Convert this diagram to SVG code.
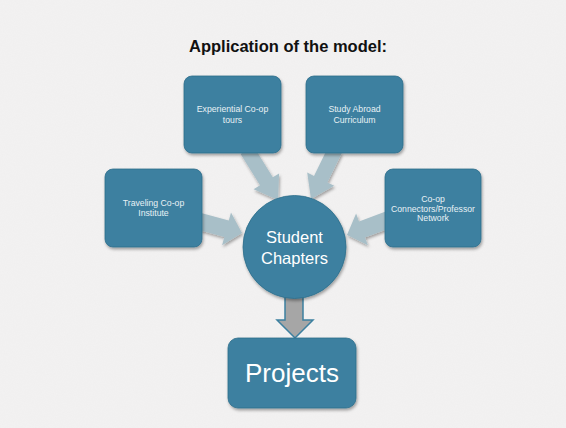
<svg xmlns="http://www.w3.org/2000/svg" width="566" height="428" viewBox="0 0 566 428">
  <defs>
    <filter id="sh" x="-20%" y="-20%" width="140%" height="140%">
      <feDropShadow dx="1" dy="2" stdDeviation="1.5" flood-color="#000" flood-opacity="0.35"/>
    </filter>
    <filter id="tex" x="0" y="0" width="100%" height="100%">
      <feTurbulence type="fractalNoise" baseFrequency="0.9" numOctaves="2" seed="3" result="n"/>
      <feColorMatrix type="matrix" values="0 0 0 0 0.5  0 0 0 0 0.5  0 0 0 0 0.5  0 0 0 0.06 0"/>
    </filter>
  </defs>
  <style>
    .box { fill: #3c80a0; stroke: #2f6e8c; stroke-width: 0.8; filter: url(#sh); }
    .lbl { font-family: "Liberation Sans", Arial, sans-serif; font-size: 8.7px; fill: #e8f1f5; text-anchor: middle; }
    .big { font-family: "Liberation Sans", Arial, sans-serif; fill: #ffffff; text-anchor: middle; }
    .arr { fill: #a8bfc8; filter: url(#sh); }
    .down { fill: #a6a6a6; stroke: #3c80a0; stroke-width: 1.5; }
  </style>
  <rect width="566" height="428" fill="#f3f2f2"/>
  <rect width="566" height="428" filter="url(#tex)"/>
  <text x="288" y="52" font-family="Liberation Sans, Arial, sans-serif" font-size="16.5" font-weight="bold" fill="#111" text-anchor="middle">Application of the model:</text>

  <g id="connectors">
    <polygon class="arr" points="240.6,153.9 260,185.3 253.6,189.2 278,200 279.1,173.4 272.8,177.3 253.4,146"/>
    <polygon class="arr" points="341.7,153.3 327.4,182.5 334.2,185.8 311,199 307.2,172.6 314,175.9 328.3,146.7"/>
    <polygon class="arr" points="195.8,229.2 224.3,237 222.1,245.2 242,233 231,212.4 228.8,220.6 200.2,212.8"/>
    <polygon class="arr" points="393,227 365,237.4 367.9,245.3 347,235 356.1,213.5 359,221.4 387,211"/>
    <polygon class="down" points="285,294 303,294 303,320 313,320 295,338 277,320 285,320"/>
  </g>

  <g id="experiential">
    <rect class="box" x="184" y="76" width="97" height="77" rx="8"/>
    <text class="lbl" x="232.5" y="112">Experiential Co-op</text>
    <text class="lbl" x="232.5" y="123">tours</text>
  </g>
  <g id="study-abroad">
    <rect class="box" x="306" y="76" width="97" height="77" rx="8"/>
    <text class="lbl" x="354.5" y="112">Study Abroad</text>
    <text class="lbl" x="354.5" y="123">Curriculum</text>
  </g>
  <g id="traveling">
    <rect class="box" x="105" y="169" width="97" height="78" rx="8"/>
    <text class="lbl" x="153.5" y="206">Traveling Co-op</text>
    <text class="lbl" x="153.5" y="216">Institute</text>
  </g>
  <g id="connectors-network">
    <rect class="box" x="385" y="169" width="96" height="78" rx="8"/>
    <text class="lbl" x="433" y="202">Co-op</text>
    <text class="lbl" x="433" y="211.5">Connectors/Professor</text>
    <text class="lbl" x="433" y="221">Network</text>
  </g>
  <g id="student-chapters">
    <circle class="box" cx="294.5" cy="247" r="51.5"/>
    <text class="big" x="294.5" y="243" font-size="16.5">Student</text>
    <text class="big" x="294.5" y="264" font-size="16.5">Chapters</text>
  </g>
  <g id="projects">
    <rect class="box" x="228" y="338" width="128" height="70" rx="10"/>
    <text class="big" x="292" y="382" font-size="26">Projects</text>
  </g>
</svg>
